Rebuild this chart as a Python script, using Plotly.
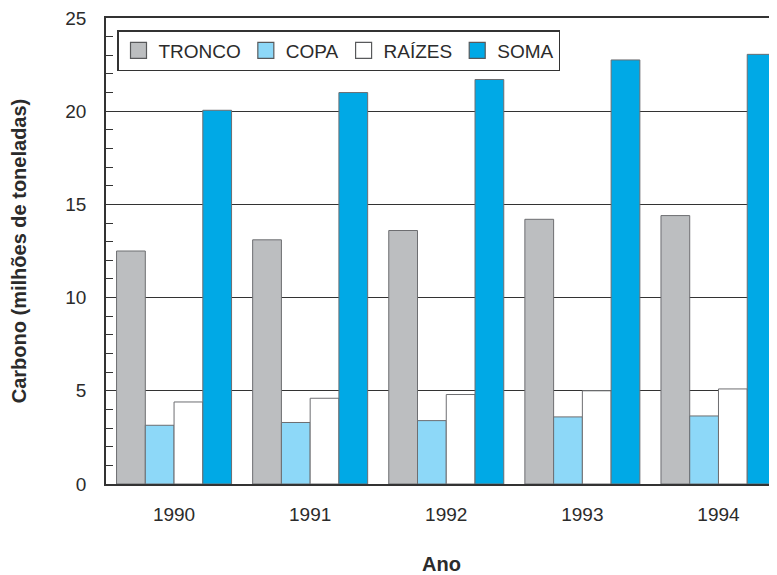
import plotly.graph_objects as go

# ─────────────────────────────────────────────
# Data
# ─────────────────────────────────────────────

ANOS = ["1990", "1991", "1992", "1993", "1994"]
TRONCO = [12.5, 13.1, 13.6, 14.2, 14.4]
COPA = [3.15, 3.3, 3.4, 3.6, 3.65]
RAIZES = [4.4, 4.6, 4.8, 5.0, 5.1]
SOMA = [20.05, 21.0, 21.7, 22.75, 23.05]

SERIES = [
    ("TRONCO", TRONCO, "#bcbec0"),
    ("COPA", COPA, "#8dd8f8"),
    ("RAÍZES", RAIZES, "#ffffff"),
    ("SOMA", SOMA, "#00a9e6"),
]

TEXT = "#2b2b2b"
LINE = "#333333"
FONT = "Liberation Sans, Arial, sans-serif"

fig = go.Figure()
for name, values, color in SERIES:
    fig.add_trace(go.Bar(
        x=ANOS,
        y=values,
        name=name,
        showlegend=False,
        marker=dict(color=color, line=dict(color="#6d6e71", width=1)),
    ))

# legend proxies: bigger square symbols than the bar default
for name, values, color in SERIES:
    fig.add_trace(go.Scatter(
        x=[None], y=[None],
        mode="markers",
        name=name,
        marker=dict(symbol="square", size=16, color=color, line=dict(color="#58595b", width=1.2)),
    ))

# page body has an 8px margin, so the figure is shifted by 8px
fig.update_layout(
    width=769,
    height=567,
    font=dict(family=FONT, color=TEXT, size=19),
    paper_bgcolor="white",
    plot_bgcolor="white",
    margin=dict(l=98, r=0, t=10, b=91),
    barmode="group",
    bargap=0.155,
    bargroupgap=0,
    legend=dict(
        orientation="h",
        x=0.0164, y=0.974,
        xanchor="left", yanchor="top",
        bgcolor="white",
        bordercolor=LINE,
        borderwidth=1.5,
        font=dict(size=19),
        traceorder="normal",
        itemwidth=30,
    ),
    xaxis=dict(
        range=[-0.5, 4.43],
        showline=True, linecolor=LINE, linewidth=1.5, mirror=True,
        ticks="", tickfont=dict(size=19), ticklabelstandoff=12,
        title=dict(text="<b>Ano</b>", font=dict(size=20), standoff=34),
        showgrid=False,
    ),
    yaxis=dict(
        range=[0, 25],
        tickvals=[0, 5, 10, 15, 20, 25],
        showline=True, linecolor=LINE, linewidth=1.5,
        ticks="inside", ticklen=7, tickcolor=LINE,
        tickfont=dict(size=19), ticklabelstandoff=14,
        ticklabeloverflow="allow",
        showgrid=True, gridcolor=LINE, gridwidth=1,
        minor=dict(dtick=1, ticks="inside", ticklen=7, tickcolor=LINE, showgrid=False),
        zeroline=False,
        title=dict(text="<b>Carbono (milhões de toneladas)</b>", font=dict(size=20), standoff=34),
    ),
)

fig.write_html("out.html")
